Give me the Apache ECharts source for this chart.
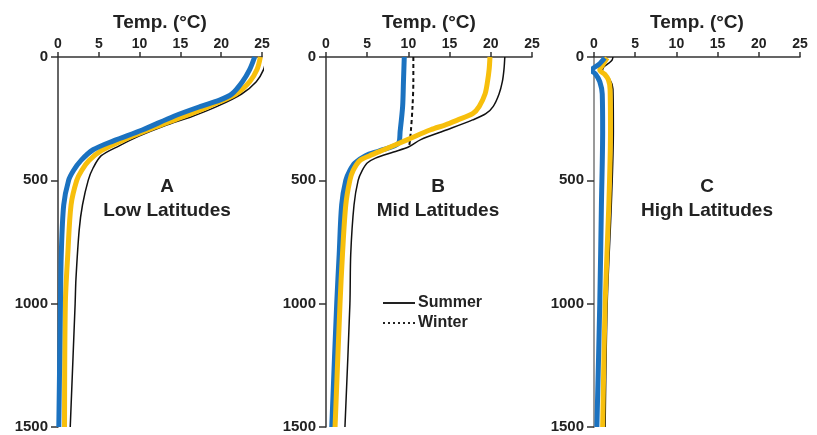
<!DOCTYPE html>
<html><head><meta charset="utf-8">
<script src="https://cdn.jsdelivr.net/npm/echarts@6/dist/echarts.min.js"></script>
<style>html,body{margin:0;padding:0;background:#fff}#c{width:817px;height:435px}</style>
</head><body><div id="c"></div>
<script>
// ---- data (temperature °C vs depth m) ----
const xTicks = [0, 5, 10, 15, 20, 25];
const yTicks = [0, 500, 1000, 1500];
const panelLabels = ['A', 'B', 'C'];
const panelNames = ['Low Latitudes', 'Mid Latitudes', 'High Latitudes'];
const legendNames = ['Summer', 'Winter'];

// Panel A – Low latitudes
const aBlueDepth  = [0, 50, 100, 150, 175, 200, 240, 295, 340, 376, 420, 460, 500, 600, 800, 1000, 1500];
const aBlueTemp   = [24.1, 23.5, 22.6, 21.3, 19.8, 17.5, 14.2, 10.4, 6.8, 4.3, 2.8, 1.9, 1.3, 0.7, 0.4, 0.3, 0.1];
const aYellowDepth = [0, 50, 100, 150, 200, 240, 290, 340, 380, 420, 460, 500, 600, 800, 1000, 1500];
const aYellowTemp  = [24.8, 24.4, 23.5, 21.8, 18.5, 15.5, 11.5, 7.8, 5.3, 3.8, 2.9, 2.3, 1.6, 1.2, 0.9, 0.8];
const aBlackDepth = [5, 50, 100, 150, 200, 240, 280, 320, 360, 400, 450, 500, 600, 700, 900, 1000, 1500];
const aBlackTemp  = [25.5, 25.2, 24.3, 22.5, 19.5, 16.5, 13, 10, 7.5, 5.3, 4.3, 3.7, 3.0, 2.6, 2.2, 2.1, 1.5];

// Panel B – Mid latitudes
const bBlueDepth  = [0, 100, 200, 300, 350, 380, 400, 430, 460, 500, 600, 800, 1000, 1500];
const bBlueTemp   = [9.5, 9.4, 9.3, 9.0, 8.8, 6.5, 4.8, 3.5, 2.9, 2.4, 1.9, 1.6, 1.3, 0.7];
const bYellowDepth = [0, 50, 100, 150, 200, 230, 255, 275, 295, 335, 376, 400, 420, 460, 500, 600, 800, 1000, 1500];
const bYellowTemp  = [19.9, 19.8, 19.6, 19.3, 18.6, 17.8, 16, 14.5, 12.7, 9.9, 7, 5.3, 4.1, 3.3, 2.9, 2.4, 2.0, 1.7, 1.1];
const bBlackDepth = [0, 50, 100, 150, 200, 230, 255, 295, 335, 365, 385, 410, 430, 460, 500, 600, 800, 1000, 1500];
const bBlackTemp  = [21.7, 21.6, 21.4, 21.0, 20.3, 19.4, 17.8, 14.7, 11.5, 10, 8.2, 6, 5, 4.4, 3.9, 3.4, 3.0, 2.9, 2.3];
const bWinterDepth = [0, 100, 200, 300, 362];
const bWinterTemp  = [10.6, 10.6, 10.5, 10.3, 10.1];

// Panel C – High latitudes
const cBlueDepth  = [4, 30, 53, 70, 100, 150, 300, 600, 1000, 1500];
const cBlueTemp   = [1.3, 0.6, -0.3, 0.2, 0.7, 1.0, 1.05, 0.9, 0.7, 0.35];
const cYellowDepth = [4, 30, 53, 70, 93, 130, 300, 600, 1000, 1500];
const cYellowTemp  = [1.6, 1.1, 0.7, 1.3, 1.75, 1.95, 2.0, 1.8, 1.35, 1.05];
const cBlackDepth = [0, 12, 25, 40, 60, 90, 130, 300, 600, 1000, 1500];
const cBlackTemp  = [2.3, 2.2, 1.8, 1.2, 1.0, 1.9, 2.3, 2.35, 2.1, 1.6, 1.35];

const BLUE = '#1b72c0', YELLOW = '#f7bf0c', BLACK = '#111';
const FONT = '"Liberation Sans", Arial, sans-serif';

function pts(t, d) { return t.map((v, i) => [v, d[i]]); }

const grids = [
  {left: 58, top: 57, width: 204, height: 370},
  {left: 326, top: 57, width: 206, height: 370},
  {left: 594, top: 57, width: 206, height: 370}
];
const xAxes = grids.map((g, i) => ({
  type: 'value', gridIndex: i, position: 'top', min: xTicks[0], max: xTicks[xTicks.length - 1], interval: 5,
  name: 'Temp. (°C)', nameLocation: 'middle', nameGap: 24,
  nameTextStyle: {fontFamily: FONT, fontWeight: 'bold', fontSize: 19, color: '#222'},
  axisLine: {lineStyle: {color: '#333', width: 1.5}},
  axisTick: {length: 5, lineStyle: {color: '#333', width: 1.5}},
  axisLabel: {margin: 6, fontFamily: FONT, fontWeight: 'bold', fontSize: 14, color: '#222'},
  splitLine: {show: false}
}));
const yAxes = grids.map((g, i) => ({
  type: 'value', gridIndex: i, inverse: true, min: yTicks[0], max: yTicks[yTicks.length - 1], interval: 500,
  axisLine: {lineStyle: {color: i === 2 ? '#9a9a9a' : '#333', width: i === 2 ? 2 : 1.5}},
  axisTick: {length: 7, lineStyle: {color: '#333', width: 1.5}},
  axisLabel: {margin: 10, fontFamily: FONT, fontWeight: 'bold', fontSize: 15, color: '#222', formatter: v => String(v)},
  splitLine: {show: false}
}));

function ln(name, idx, data, color, width, z, dashed) {
  return {
    type: 'line', name: name, xAxisIndex: idx, yAxisIndex: idx, data: data,
    showSymbol: false, symbol: 'none', smooth: 0.3, clip: false, z: z,
    lineStyle: {color: color, width: width, type: dashed ? [4, 3] : 'solid', cap: 'butt', join: 'round'},
    itemStyle: {color: color}, silent: true
  };
}

const series = [
  ln('Summer A', 0, pts(aBlackTemp, aBlackDepth), BLACK, 1.5, 2),
  ln('A2', 0, pts(aYellowTemp, aYellowDepth), YELLOW, 5, 3),
  ln('A1', 0, pts(aBlueTemp, aBlueDepth), BLUE, 5, 4),
  ln('Summer B', 1, pts(bBlackTemp, bBlackDepth), BLACK, 1.5, 2),
  ln('Winter B', 1, pts(bWinterTemp, bWinterDepth), BLACK, 2, 2, true),
  ln('B1', 1, pts(bBlueTemp, bBlueDepth), BLUE, 5, 3),
  ln('B2', 1, pts(bYellowTemp, bYellowDepth), YELLOW, 5, 4),
  ln('Summer C', 2, pts(cBlackTemp, cBlackDepth), BLACK, 1.5, 2),
  ln('C2', 2, pts(cYellowTemp, cYellowDepth), YELLOW, 5, 3),
  ln('C1', 2, pts(cBlueTemp, cBlueDepth), BLUE, 5, 4)
];

const centers = [167, 438, 707];
const graphic = [];
centers.forEach((cx, i) => {
  graphic.push({type: 'text', x: cx, y: 187, style: {text: panelLabels[i], textAlign: 'center', textVerticalAlign: 'middle', fontFamily: FONT, fontWeight: 'bold', fontSize: 19, fill: '#222'}});
  graphic.push({type: 'text', x: cx, y: 211, style: {text: panelNames[i], textAlign: 'center', textVerticalAlign: 'middle', fontFamily: FONT, fontWeight: 'bold', fontSize: 19, fill: '#222'}});
});
// legend (Summer solid, Winter dotted)
graphic.push({type: 'line', shape: {x1: 383, y1: 303, x2: 415, y2: 303}, style: {stroke: '#222', lineWidth: 2}});
graphic.push({type: 'line', shape: {x1: 383, y1: 323, x2: 415, y2: 323}, style: {stroke: '#222', lineWidth: 2, lineDash: [2, 3]}});
graphic.push({type: 'text', x: 418, y: 303, style: {text: legendNames[0], textVerticalAlign: 'middle', fontFamily: FONT, fontWeight: 'bold', fontSize: 16, fill: '#222'}});
graphic.push({type: 'text', x: 418, y: 323, style: {text: legendNames[1], textVerticalAlign: 'middle', fontFamily: FONT, fontWeight: 'bold', fontSize: 16, fill: '#222'}});

const chart = echarts.init(document.getElementById('c'), null, {renderer: 'canvas'});
chart.setOption({
  animation: false,
  backgroundColor: '#fff',
  grid: grids,
  xAxis: xAxes,
  yAxis: yAxes,
  graphic: graphic,
  series: series
});
</script></body></html>
